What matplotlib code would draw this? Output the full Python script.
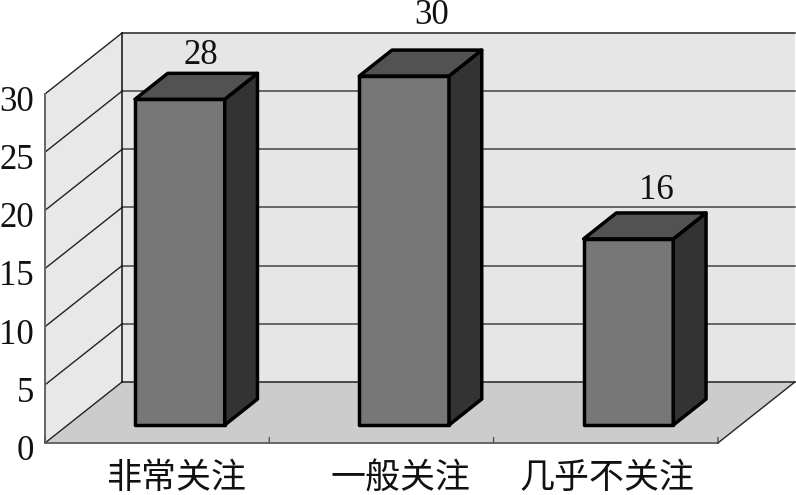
#!/usr/bin/env python3
"""
Pseudo-3D column chart, drawn on a flat axes with an oblique depth offset
"""

import matplotlib
matplotlib.use('Agg')
import matplotlib.pyplot as plt
from matplotlib.patches import Polygon

categories = ['非常关注', '一般关注', '几乎不关注']
values = [28, 30, 16]
y_ticks = [0, 5, 10, 15, 20, 25, 30]

W, H = 796, 495
X0, Y0 = 45, 443          # front left corner of floor, pixels
CAT_W = 224.3             # pixels per category
UNIT = 349 / 30           # pixels per value unit
DEPTH_X, DEPTH_Y = 77, 61 # pixels from front to back of the floor

BAR_W = 0.4
BAR_D0, BAR_D1 = 0.295, 0.72
LABEL_SHIFT = [0.085, 0.085, 0.005]  # category labels sit off centre
VALUE_OFFSET = [(-1.5, 18), (3, 30), (3, 21.5)]  # value labels, points


def proj(x, v, d=0.0):
    """category x, value v, depth d (0 front, 1 back) -> data coords"""
    return x + d * DEPTH_X / CAT_W, v + d * DEPTH_Y / UNIT


def face(ax, pts, fc, ec='black', lw=2.5, z=2):
    ax.add_patch(Polygon([proj(*p) for p in pts], closed=True, facecolor=fc,
                         edgecolor=ec, linewidth=lw, joinstyle='round', zorder=z))


fig = plt.figure(figsize=(W / 100, H / 100), dpi=100)
ax = fig.add_axes([0, 0, 1, 1])
ax.set_xlim(-0.5 - X0 / CAT_W, -0.5 + (W - X0) / CAT_W)
ax.set_ylim(-(H - Y0) / UNIT, Y0 / UNIT)
ax.axis('off')

n = len(categories)
xl, xr = -0.5, n - 0.5
top = y_ticks[-1]

# walls and floor
face(ax, [(xl, 0, 1), (xr, 0, 1), (xr, top, 1), (xl, top, 1)], '#e6e6e6', 'none', 0, 1)
face(ax, [(xl, 0, 0), (xl, 0, 1), (xl, top, 1), (xl, top, 0)], '#e8e8e8', 'none', 0, 1)
face(ax, [(xl, 0, 0), (xr, 0, 0), (xr, 0, 1), (xl, 0, 1)], '#cccccc', 'none', 0, 1)

# gridlines on back and side wall
for t in y_ticks:
    xs, ys = zip(proj(xl, t, 0), proj(xl, t, 1), proj(xr, t, 1))
    ax.plot(xs[:2], ys[:2], color='#222222', lw=1.0, zorder=1.5)
    ax.plot(xs[1:], ys[1:], color='#222222' if t in (0, top) else '#444444',
            lw=1.1, zorder=1.5)

# frame edges
xs, ys = zip(proj(xl, 0, 1), proj(xl, top, 1))
ax.plot(xs, ys, color='#111111', lw=1.1, zorder=1.5)
xs, ys = zip(proj(xl, top, 0), proj(xl, 0, 0), proj(xr, 0, 0), proj(xr, 0, 1))
ax.plot(xs[:3], ys[:3], color='#666666', lw=1.4, zorder=1.6)
ax.plot(xs[2:], ys[2:], color='#222222', lw=1.0, zorder=1.6)

# category ticks on the front edge
for i in range(n + 1):
    ax.annotate('', xy=proj(xl + i, 0, 0), xytext=(0, 4), textcoords='offset points',
                arrowprops=dict(arrowstyle='-', color='#555555', lw=1.0,
                                shrinkA=0, shrinkB=0))

# columns
for i, v in enumerate(values):
    a, b = i - BAR_W / 2, i + BAR_W / 2
    face(ax, [(a, 0, BAR_D0), (b, 0, BAR_D0), (b, v, BAR_D0), (a, v, BAR_D0)], '#777777', z=3)
    face(ax, [(b, 0, BAR_D0), (b, 0, BAR_D1), (b, v, BAR_D1), (b, v, BAR_D0)], '#333333', z=3)
    face(ax, [(a, v, BAR_D0), (b, v, BAR_D0), (b, v, BAR_D1), (a, v, BAR_D1)], '#525252', z=3)
    ax.annotate(str(v), xy=proj(i, v, 0.6), xytext=VALUE_OFFSET[i], textcoords='offset points',
                ha='center', va='center', fontsize=25, family='Liberation Serif',
                color='#111111', zorder=4)

# axis labels
for t in y_ticks:
    ax.annotate(str(t), xy=proj(xl, t, 0), xytext=(-8, -6), textcoords='offset points',
                ha='right', va='center', fontsize=25, family='Liberation Serif',
                color='#111111')
for i, name in enumerate(categories):
    ax.annotate(name, xy=proj(i + LABEL_SHIFT[i], 0, 0), xytext=(0, -25),
                textcoords='offset points', ha='center', va='center', fontsize=25.2,
                family=['Noto Sans CJK SC', 'DejaVu Sans'], fontweight='light',
                color='#111111')

plt.savefig('out.png', dpi=100)
plt.close()
